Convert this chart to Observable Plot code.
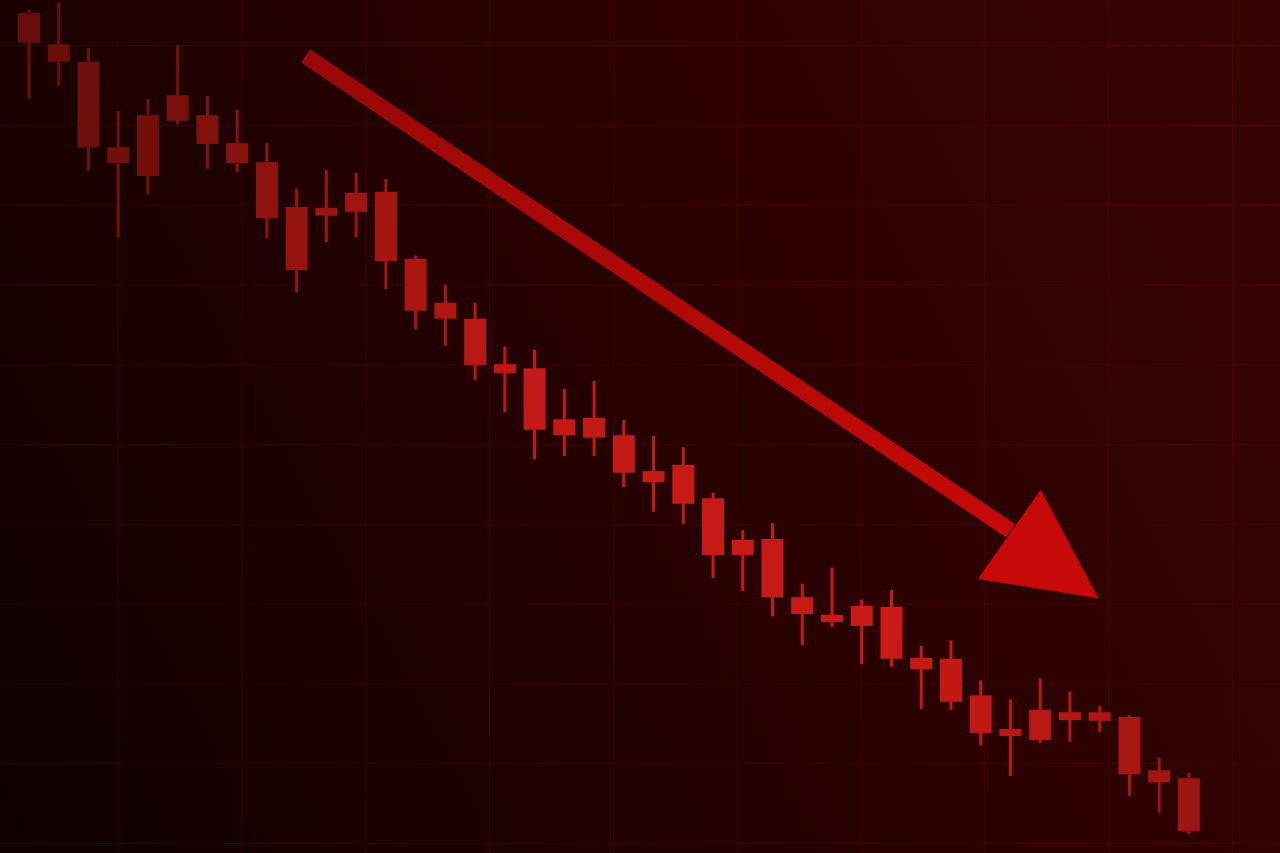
<!DOCTYPE html>
<html>
<head>
<meta charset="utf-8">
<script src="https://cdn.jsdelivr.net/npm/d3@7"></script>
<script src="https://cdn.jsdelivr.net/npm/@observablehq/plot@0.6"></script>
<style>
  html, body { margin: 0; padding: 0; background: #000; overflow: hidden; }
  #chart svg { display: block; }
</style>
</head>
<body>
<div id="chart"></div>
<script>
// Candle data (arbitrary price units), one entry per session
const open  = [104.0,100.1,97.9,87.2,91.2,93.7,91.2,87.7,85.3,79.7,79.6,81.5,81.6,73.2,67.7,65.7,60.0,59.5,53.1,53.3,51.1,46.6,47.4,43.2,38.0,38.1,30.8,28.6,29.7,29.6,23.2,23.1,18.5,14.3,16.7,16.4,16.4,15.8,9.1,8.1];
const close = [100.3,97.9,87.2,85.2,83.6,90.5,87.6,85.2,78.3,71.8,78.6,79.1,72.9,66.7,65.7,59.9,58.9,51.8,51.1,50.8,46.4,45.2,42.5,36.1,36.1,30.8,28.7,27.7,27.2,23.1,21.8,17.7,13.8,13.4,12.9,15.4,15.3,8.6,7.6,1.5];
const high  = [104.4,105.3,99.6,91.7,93.2,100.0,93.6,91.9,87.7,82.0,84.3,84.0,83.2,73.6,69.9,67.7,62.2,61.8,56.9,57.9,53.0,51.0,49.6,43.9,39.2,40.1,32.5,34.5,30.5,31.7,24.7,25.4,20.4,18.0,20.6,19.0,17.2,16.0,10.7,8.8];
const low   = [93.2,94.9,84.2,75.9,81.3,90.0,84.5,84.1,75.8,69.0,75.3,75.9,69.4,64.4,62.3,58.0,54.0,48.1,48.5,48.5,44.6,41.5,40.0,33.2,31.6,28.4,24.8,27.1,22.4,22.1,16.8,16.7,12.2,8.4,12.5,12.7,13.9,5.9,3.8,1.1];

// Grid tick values
const gridX = [2.99, 7.16, 11.32, 15.48, 19.65, 23.81, 27.97, 32.13, 36.30, 40.46];
const gridY = [0, 10, 20, 30, 40, 50, 60, 70, 80, 90, 100];

// Trend arrow (in data units)
const arrowShaft = [{x1: 9.3, y1: 98.7, x2: 33.0, y2: 39.2}];
const arrowHead = [
  {x: 34.01, y: 44.2},
  {x: 31.93, y: 33.2},
  {x: 35.93, y: 30.8}
];

const candles = open.map((o, i) => ({i, open: o, close: close[i], high: high[i], low: low[i]}));

const chart = Plot.plot({
  width: 1280,
  height: 853,
  margin: 0,
  x: {domain: [-0.958, 42.08], axis: null},
  y: {domain: [-1.253, 105.64], axis: null},
  color: {
    type: "linear",
    domain: [0, 4, 9, 13, 17, 29, 34, 37, 39],
    range: ["#680e0a","#730f0b","#951410","#a91612","#c21a16","#c81a16","#b81814","#a61613","#9c1512"],
    legend: false
  },
  style: {
    background: "linear-gradient(62deg, #0e0000 0%, #190000 22%, #250000 45%, #2d0101 65%, #330202 85%, #380303 100%)",
    overflow: "hidden"
  },
  marks: [
    Plot.ruleX(gridX, {stroke: "#b01010", strokeOpacity: 0.18, strokeWidth: 1}),
    Plot.ruleY(gridY, {stroke: "#b01010", strokeOpacity: 0.18, strokeWidth: 1}),
    Plot.ruleX(candles, {x: "i", y1: "low", y2: "high", stroke: "i", strokeWidth: 3}),
    Plot.ruleX(candles, {x: "i", y1: "close", y2: "open", stroke: "i", strokeWidth: 22, strokeLinecap: "butt"}),
    Plot.link(arrowShaft, {x1: "x1", y1: "y1", x2: "x2", y2: "y2", stroke: "#b00a08", strokeWidth: 16, strokeLinecap: "butt"}),
    Plot.line(arrowHead, {x: "x", y: "y", fill: "#c70a09", stroke: "#c70a09", strokeWidth: 1, curve: "linear-closed"})
  ]
});

// arrow gradient (dim at the tail, bright at the head)
const ns = "http://www.w3.org/2000/svg";
const defs = document.createElementNS(ns, "defs");
const lg = document.createElementNS(ns, "linearGradient");
lg.setAttribute("id", "arrowGrad");
lg.setAttribute("x1", "0"); lg.setAttribute("y1", "0");
lg.setAttribute("x2", "1"); lg.setAttribute("y2", "1");
[["0%", "#980907"], ["100%", "#c50a08"]].forEach(([o, c]) => {
  const s = document.createElementNS(ns, "stop");
  s.setAttribute("offset", o); s.setAttribute("stop-color", c);
  lg.appendChild(s);
});
defs.appendChild(lg);
chart.insertBefore(defs, chart.firstChild);
chart.querySelectorAll('g[aria-label="link"] path').forEach(p => p.setAttribute("stroke", "url(#arrowGrad)"));

document.getElementById("chart").appendChild(chart);
</script>
</body>
</html>
